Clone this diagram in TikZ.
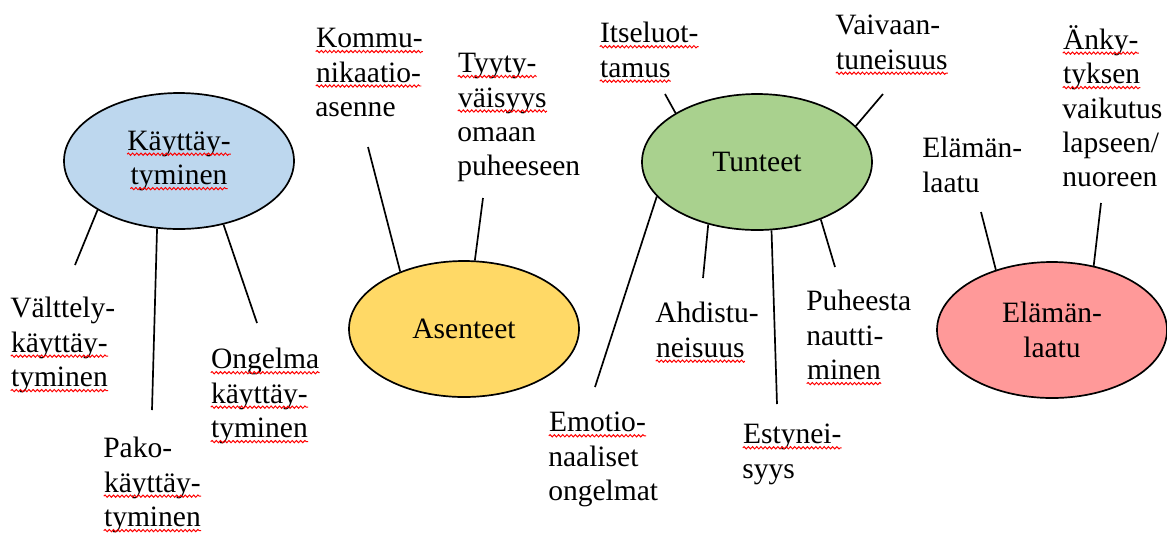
\documentclass[tikz,border=0pt]{standalone}
\usepackage{fontspec}
\setmainfont{Liberation Serif}
\usepackage{tikz}
\usetikzlibrary{shapes.geometric,decorations.pathmorphing}

\definecolor{blobblue}{HTML}{BDD7EE}
\definecolor{blobyellow}{HTML}{FFD966}
\definecolor{blobgreen}{HTML}{A9D18E}
\definecolor{blobpink}{HTML}{FF9999}

\newcommand\lbfont{\fontsize{21}{24.5}\selectfont}
% red wavy line under a word
\newcommand\wv[1]{\tikz[baseline=(w.base)]{\node[shape=rectangle, draw=none, fill=none, inner sep=0pt, minimum size=0pt, anchor=base] (w) {#1};
  \draw[red, line width=.7pt, decorate, decoration={snake, amplitude=.8pt, segment length=3pt}]
    ([yshift=-2.8pt]w.base west) -- ([yshift=-2.8pt]w.base east);}}

\begin{document}
\begin{tikzpicture}[every node/.style = {font = \lbfont},
  lbl/.style = {anchor = north west, align = left, inner sep = 0pt},
  blob/.style = {shape = ellipse, draw = black, line width = 1.2pt, minimum width = 5.75cm, minimum height = 3.4cm, inner sep = 0pt, align = center},
  stick/.style = {draw = black, line width = 1.2pt}]
  \useasboundingbox (0,0) rectangle (29.175,-13.35);

  % ellipses
  \node[blob, fill = blobblue] (K) at (4.475,-4.025) {\wv{Käyttäy-}\\\wv{tyminen}};
  \node[blob, fill = blobyellow] (A) at (11.6,-8.225) {Asenteet};
  \node[blob, fill = blobgreen] (T) at (18.925,-4.05) {Tunteet};
  \node[blob, fill = blobpink] (E) at (26.3,-8.25) {Elämän-\\laatu};

  % labels
  \node[lbl] (k1) at (0.25,-7.425) {Välttely-\\\wv{käyttäy-}\\\wv{tyminen}};
  \node[lbl] (k2) at (2.575,-10.925) {Pako-\\\wv{käyttäy-}\\\wv{tyminen}};
  \node[lbl] (k3) at (5.25,-8.7) {\wv{Ongelma}\\\wv{käyttäy-}\\\wv{tyminen}};
  \node[lbl] (a1) at (7.875,-0.7) {\wv{Kommu-}\\\wv{nikaatio-}\\asenne};
  \node[lbl] (a2) at (11.425,-1.325) {\wv{Tyyty-}\\\wv{väisyys}\\omaan\\puheeseen};
  \node[lbl] (t1) at (14.975,-0.55) {\wv{Itseluot-}\\\wv{tamus}};
  \node[lbl] (t2) at (20.875,-0.375) {Vaivaan-\\\wv{tuneisuus}};
  \node[lbl] (t3) at (13.7,-10.3) {\wv{Emotio-}\\naaliset\\ongelmat};
  \node[lbl] (t4) at (16.375,-7.55) {Ahdistu-\\\wv{neisuus}};
  \node[lbl] (t5) at (18.55,-10.6) {\wv{Estynei-}\\syys};
  \node[lbl] (t6) at (20.15,-7.25) {Puheesta\\nautti-\\\wv{minen}};
  \node[lbl] (e1) at (23.05,-3.425) {Elämän-\\laatu};
  \node[lbl] (e2) at (26.55,-0.625) {\wv{Änky-}\\\wv{tyksen}\\vaikutus\\lapseen/\\nuoreen};

  % free ends of the sticks
  \coordinate (k1e) at (1.875,-6.625);
  \coordinate (k2e) at (3.8,-10.25);
  \coordinate (k3e) at (6.425,-8.075);
  \coordinate (a1e) at (9.2,-3.675);
  \coordinate (a2e) at (12.075,-4.95);
  \coordinate (t1e) at (16.625,-2.35);
  \coordinate (t2e) at (22.075,-2.35);
  \coordinate (t3e) at (14.875,-9.675);
  \coordinate (t4e) at (17.575,-6.95);
  \coordinate (t5e) at (19.425,-10.1);
  \coordinate (t6e) at (20.875,-6.675);
  \coordinate (e1e) at (24.525,-5.3);
  \coordinate (e2e) at (27.525,-5.075);

  \draw[stick] (K.211) -- (k1e);
  \draw[stick] (K.252) -- (k2e);
  \draw[stick] (K.305) -- (k3e);
  \draw[stick] (A.138) -- (a1e);
  \draw[stick] (A.81) -- (a2e);
  \draw[stick] (T.149) -- (t1e);
  \draw[stick] (T.20) -- (t2e);
  \draw[stick] (T.199) -- (t3e);
  \draw[stick] (T.232) -- (t4e);
  \draw[stick] (T.282) -- (t5e);
  \draw[stick] (T.318) -- (t6e);
  \draw[stick] (E.133) -- (e1e);
  \draw[stick] (E.57) -- (e2e);
\end{tikzpicture}
\end{document}
